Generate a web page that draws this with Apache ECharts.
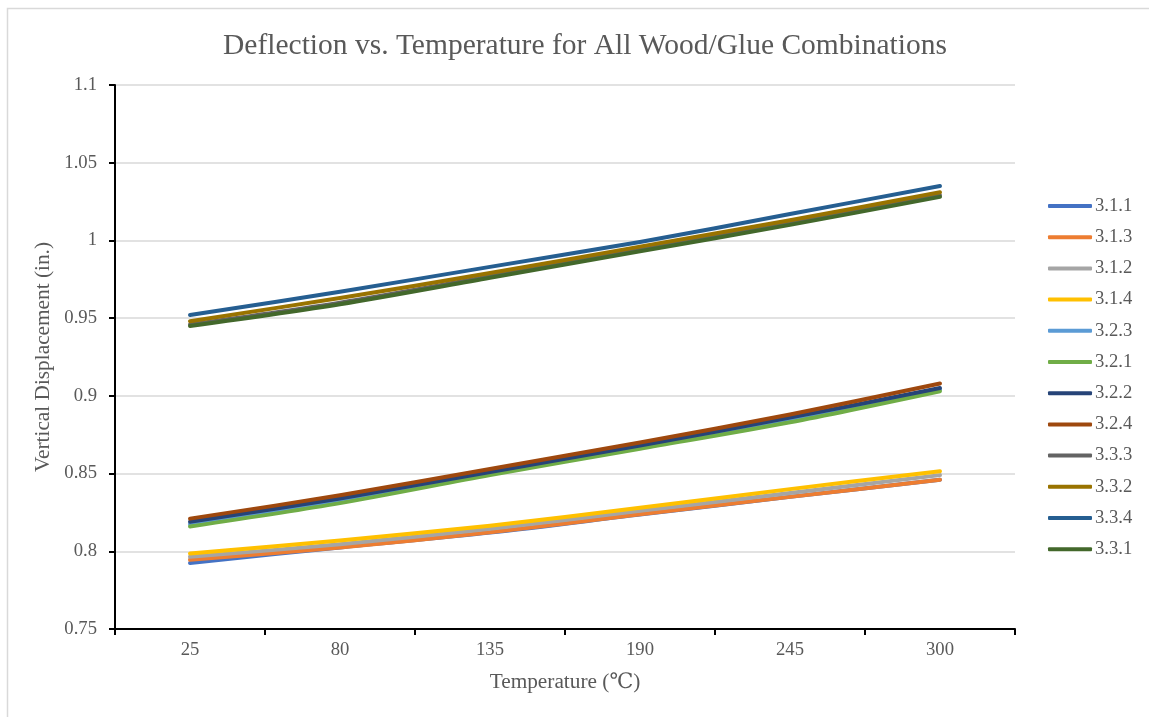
<!DOCTYPE html>
<html>
<head>
<meta charset="utf-8">
<title>Deflection vs. Temperature</title>
<script src="https://cdn.jsdelivr.net/npm/echarts@6/dist/echarts.min.js"></script>
<style>
  html, body { margin: 0; padding: 0; background: #ffffff; }
  #chart { width: 1149px; height: 717px; }
</style>
</head>
<body>
<div id="chart"></div>
<script>
// Temperature categories (°C)
const temperatures = ['25', '80', '135', '190', '245', '300'];

// Vertical displacement (in.) per wood/glue combination
const s311 = [0.7925, 0.8025, 0.8120, 0.8236, 0.8350, 0.8460];
const s313 = [0.7945, 0.8025, 0.8122, 0.8238, 0.8350, 0.8460];
const s312 = [0.7965, 0.8045, 0.8145, 0.8260, 0.8375, 0.8490];
const s314 = [0.7985, 0.8070, 0.8165, 0.8280, 0.8400, 0.8515];
const s323 = [0.8175, 0.8325, 0.8500, 0.8670, 0.8850, 0.9040];
const s321 = [0.8160, 0.8310, 0.8490, 0.8660, 0.8830, 0.9030];
const s322 = [0.8190, 0.8340, 0.8510, 0.8680, 0.8860, 0.9050];
const s324 = [0.8210, 0.8360, 0.8530, 0.8700, 0.8880, 0.9080];
const s333 = [0.9460, 0.9600, 0.9770, 0.9940, 1.0110, 1.0290];
const s332 = [0.9480, 0.9630, 0.9790, 0.9960, 1.0130, 1.0310];
const s334 = [0.9520, 0.9670, 0.9830, 0.9990, 1.0170, 1.0350];
const s331 = [0.9450, 0.9590, 0.9760, 0.9930, 1.0100, 1.0280];

const seriesNames = ['3.1.1', '3.1.3', '3.1.2', '3.1.4', '3.2.3', '3.2.1',
                     '3.2.2', '3.2.4', '3.3.3', '3.3.2', '3.3.4', '3.3.1'];
const seriesValues = [s311, s313, s312, s314, s323, s321,
                      s322, s324, s333, s332, s334, s331];
const seriesColors = ['#4472C4', '#ED7D31', '#A5A5A5', '#FFC000', '#5B9BD5', '#70AD47',
                      '#264478', '#9E480E', '#636363', '#997300', '#255E91', '#43682B'];

// Y axis range
const yMin = 0.75, yMax = 1.1, yStep = 0.05;

const FONT = '"Liberation Serif", "DejaVu Serif", serif';
const TEXT_COLOR = '#595959';

const chart = echarts.init(document.getElementById('chart'), null, { renderer: 'canvas' });

const option = {
  backgroundColor: '#ffffff',
  animation: false,
  textStyle: { fontFamily: FONT },
  graphic: [{
    type: 'rect',
    shape: { x: 7.5, y: 8.5, width: 1200, height: 800 },
    style: { fill: 'none', stroke: '#D9D9D9', lineWidth: 1.5 },
    silent: true
  }],
  title: {
    text: 'Deflection vs. Temperature for All Wood/Glue Combinations',
    left: 580,
    textAlign: 'center',
    top: 26,
    textStyle: { fontFamily: FONT, fontSize: 29.5, fontWeight: 'normal', color: TEXT_COLOR }
  },
  legend: {
    orient: 'vertical',
    left: 1043,
    top: 191,
    itemWidth: 44,
    itemHeight: 4,
    itemGap: 11.2,
    icon: 'roundRect',
    data: seriesNames,
    textStyle: { fontFamily: FONT, fontSize: 18.67, color: TEXT_COLOR, lineHeight: 20, padding: [0, 0, 0, -2] }
  },
  grid: { left: 115, right: 134, top: 85, bottom: 88, containLabel: false },
  xAxis: {
    type: 'category',
    data: temperatures,
    boundaryGap: true,
    name: 'Temperature (℃)',
    nameLocation: 'middle',
    nameGap: 43,
    nameTextStyle: { fontFamily: FONT, fontSize: 21.3, color: TEXT_COLOR },
    axisLine: { lineStyle: { color: '#000000', width: 2 } },
    axisTick: { show: true, length: 6, alignWithLabel: false, lineStyle: { color: '#000000', width: 2 } },
    axisLabel: { margin: 12, fontFamily: FONT, fontSize: 18.67, color: TEXT_COLOR },
    splitLine: { show: false }
  },
  yAxis: {
    type: 'value',
    min: yMin,
    max: yMax,
    interval: yStep,
    name: 'Vertical Displacement (in.)',
    nameLocation: 'middle',
    nameGap: 59,
    nameTextStyle: { fontFamily: FONT, fontSize: 21.3, color: TEXT_COLOR },
    axisLine: { show: true, lineStyle: { color: '#000000', width: 2 } },
    axisTick: { show: true, length: 6, lineStyle: { color: '#000000', width: 2 } },
    axisLabel: {
      margin: 18,
      fontFamily: FONT, fontSize: 18.67, color: TEXT_COLOR,
      formatter: v => String(Math.round(v * 100) / 100)
    },
    splitLine: { show: true, lineStyle: { color: '#D9D9D9', width: 1.5 } }
  },
  series: seriesNames.map((name, i) => ({
    name: name,
    type: 'line',
    data: seriesValues[i],
    smooth: 0.3,
    symbol: 'none',
    color: seriesColors[i],
    lineStyle: { width: 4, color: seriesColors[i], cap: 'round', join: 'round' },
    itemStyle: { color: seriesColors[i] },
    emphasis: { disabled: true }
  }))
};

chart.setOption(option);
</script>
</body>
</html>
